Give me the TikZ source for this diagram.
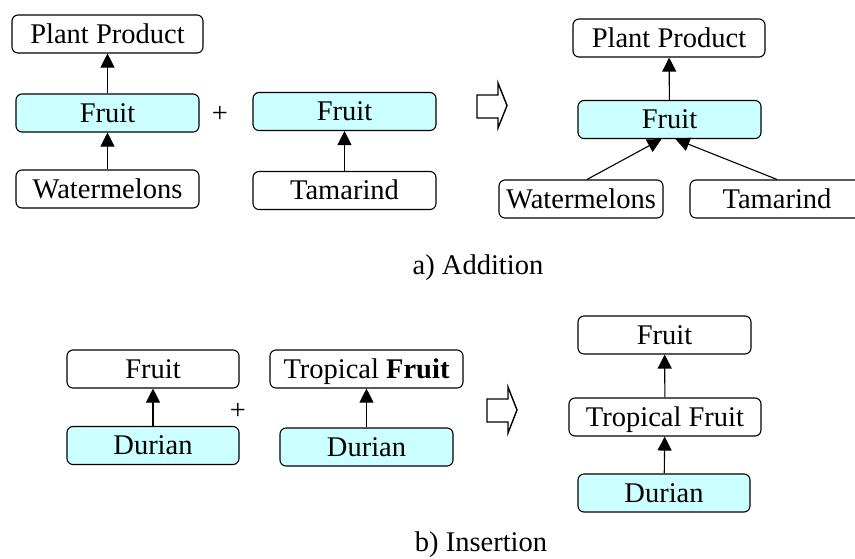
\documentclass[tikz,border=0pt]{standalone}
\usepackage{fontspec}
\setmainfont{Liberation Serif}
\usepackage{tikz}
\usetikzlibrary{arrows.meta, positioning}
\definecolor{lightcyan}{RGB}{204,255,255}
\tikzset{
x=1pt, y=-1pt, % one unit is one pixel of the figure
every node/.style={font=\fontsize{28.5}{32}\selectfont}, % text size for all nodes
concept/.style={draw, line width=1.1pt, rounded corners=6pt, inner sep=0pt,
  minimum height=38pt, text height=20pt, text depth=2pt}, % a plain concept box
newconcept/.style={concept, fill=lightcyan}, % the concept that is added
isa/.style={-{Triangle[width=14pt,length=14pt]}, line width=1.1pt}, % the edge to the parent
bigarrow/.style={draw, line width=1.4pt, line join=miter}, % the outlined arrow
label/.style={anchor=base, inner sep=0pt}, % captions and plus signs
}

\begin{document}
\begin{tikzpicture}
        \useasboundingbox (0,0) rectangle (855,558);

        % a) Addition
        \node[concept, minimum width=191pt] (pp1) at (107.5,34) {Plant Product};
        \node[newconcept, minimum width=183pt] (fr1) at (107.5,113) {Fruit};
        \node[concept, minimum width=183pt] (wm1) at (107.5,189) {Watermelons};
        \node[label] (plus1) at (220,122) {+};
        \node[newconcept, minimum width=183pt] (fr2) at (344.5,111.5) {Fruit};
        \node[concept, minimum width=183pt] (ta2) at (344.5,190.5) {Tamarind};
        \draw[bigarrow] (477,95) -- (498,95) -- (498,83) -- (507,105.5) -- (498,128) -- (498,118) -- (477,118) -- cycle;
        \node[concept, minimum width=192pt] (pp3) at (669,38) {Plant Product};
        \node[newconcept, minimum width=183pt] (fr3) at (669.5,119.5) {Fruit};
        \node[concept, minimum width=164pt] (wm3) at (581,199) {Watermelons};
        \node[concept, minimum width=174pt] (ta3) at (777,199) {Tamarind};
        \node[label] (capa) at (478,274) {a) Addition};

        \draw[isa] (fr1) -- (pp1);
        \draw[isa] (wm1) -- (fr1);
        \draw[isa] (ta2) -- (fr2);
        \draw[isa] (fr3) -- (pp3);
        \draw[isa] ([xshift=6pt]wm3.north) -- ([xshift=-8pt]fr3.south);
        \draw[isa] (ta3.north) -- ([xshift=6pt]fr3.south);

        % b) Insertion
        \node[concept, minimum width=172pt] (fr4) at (153,369) {Fruit};
        \node[newconcept, minimum width=172pt] (du4) at (153,445.5) {Durian};
        \node[label] (plus2) at (238,419) {+};
        \node[concept, minimum width=193pt] (tf5) at (366.5,369) {Tropical \textbf{Fruit}};
        \node[newconcept, minimum width=173pt] (du5) at (366.5,447) {Durian};
        \draw[bigarrow] (487,399) -- (508,399) -- (508,387) -- (517,410) -- (508,433) -- (508,422) -- (487,422) -- cycle;
        \node[concept, minimum width=173pt] (fr6) at (664.5,335) {Fruit};
        \node[concept, minimum width=192pt] (tf6) at (665,417) {Tropical Fruit};
        \node[newconcept, minimum width=172pt] (du6) at (664,493) {Durian};
        \node[label] (capb) at (481,551) {b) Insertion};

        \draw[isa] (du4) -- (fr4);
        \draw[isa] (du5) -- (tf5);
        \draw[isa] (tf6) -- (fr6);
        \draw[isa] (du6) -- (tf6);
      \end{tikzpicture}
\end{document}
